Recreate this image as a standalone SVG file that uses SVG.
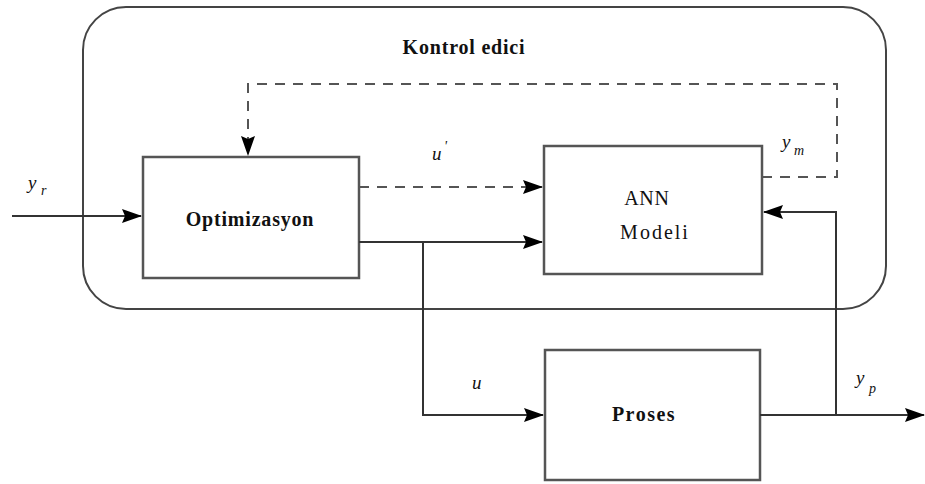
<svg xmlns="http://www.w3.org/2000/svg" width="925" height="484" viewBox="0 0 925 484">
<defs>
<marker id="ah" markerWidth="20" markerHeight="14" refX="19" refY="7" orient="auto" markerUnits="userSpaceOnUse">
<path d="M0,0 L20,7 L0,14 L3,7 z" fill="#000"/>
</marker>
<style>
.box{fill:#fff;stroke:#555;stroke-width:2.5}
.ln{fill:none;stroke:#333;stroke-width:2}
.dash{fill:none;stroke:#555;stroke-width:2;stroke-dasharray:10,8}
text{font-family:'Liberation Serif','DejaVu Serif','Times New Roman',serif;fill:#111}
.t{font-size:20px;text-anchor:middle;letter-spacing:0.8px}
.b{font-weight:bold}
.i{font-style:italic;font-size:19px}
.s{font-style:italic;font-size:14px}
</style>
</defs>
<rect width="925" height="484" fill="#fff"/>
<g id="kontrol">
<rect x="83" y="7" width="803" height="302" rx="43" ry="43" fill="none" stroke="#444" stroke-width="2"/>
<text class="t b" x="464" y="54">Kontrol edici</text>
</g>
<g id="optimizasyon">
<rect class="box" x="143" y="157" width="216" height="121"/>
<text class="t b" x="250" y="226">Optimizasyon</text>
</g>
<g id="ann">
<rect class="box" x="544" y="146" width="218" height="128"/>
<text class="t" x="647" y="205">ANN</text>
<text class="t" x="655" y="239" style="letter-spacing:2px">Modeli</text>
</g>
<g id="proses">
<rect class="box" x="545" y="350" width="215" height="130"/>
<text class="t b" x="644" y="421" style="letter-spacing:1.5px">Proses</text>
</g>
<g id="connectors">
<path class="ln" d="M12,216 H141" marker-end="url(#ah)"/>
<path class="dash" d="M762,177 H837 V84 H248 V155" marker-end="url(#ah)"/>
<path class="dash" d="M359,187 H542" marker-end="url(#ah)"/>
<path class="ln" d="M359,242 H542" marker-end="url(#ah)"/>
<path class="ln" d="M423,242 V415 H543" marker-end="url(#ah)"/>
<path class="ln" d="M760,415 H924" marker-end="url(#ah)"/>
<path class="ln" d="M836,415 V212 H764" marker-end="url(#ah)"/>
</g>
<g id="labels">
<text class="i" x="28" y="189">y</text><text class="s" x="41" y="195">r</text>
<text class="i" x="432" y="160">u</text><text class="s" x="444" y="151">'</text>
<text class="i" x="782" y="148">y</text><text class="s" x="794" y="155">m</text>
<text class="i" x="472" y="389">u</text>
<text class="i" x="856" y="384">y</text><text class="s" x="869" y="393">p</text>
</g>
</svg>
